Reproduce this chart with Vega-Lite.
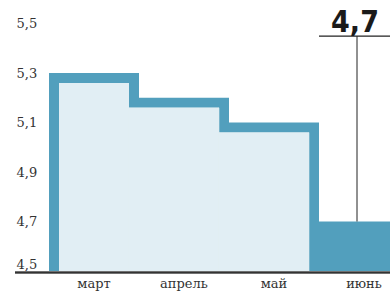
{
  "$schema": "https://vega.github.io/schema/vega-lite/v6.json",
  "width": 375,
  "height": 247.5,
  "autosize": {"type": "none"},
  "padding": {"left": 15, "top": 23.5, "right": 0, "bottom": 20},
  "background": "white",
  "config": {
    "view": {"stroke": null},
    "locale": {"number": {"decimal": ",", "thousands": " ", "grouping": [3], "currency": ["", " ₽"]}}
  },
  "data": {
    "values": [
      {"month": "март", "value": 5.3},
      {"month": "апрель", "value": 5.2},
      {"month": "май", "value": 5.1},
      {"month": "июнь", "value": 4.7}
    ]
  },
  "layer": [
    {
      "mark": {"type": "bar", "color": "#529fbd", "clip": true},
      "encoding": {
        "x": {
          "field": "month", "type": "nominal", "sort": null,
          "scale": {"domain": ["март", "апрель", "май", "июнь"], "range": [34, 394], "paddingInner": 0, "paddingOuter": 0},
          "axis": {"title": null, "domain": false, "ticks": false, "labelFont": "DejaVu Serif", "labelFontSize": 13, "labelColor": "#333", "labelPadding": 6, "labelAngle": 0}
        },
        "y": {
          "field": "value", "type": "quantitative",
          "scale": {"domain": [4.5, 5.5], "zero": false, "nice": false},
          "axis": {
            "values": [4.5, 4.7, 4.9, 5.1, 5.3, 5.5], "format": ".1f", "title": null,
            "domain": false, "ticks": false, "tickSize": 0, "grid": false,
            "labelAlign": "left", "labelPadding": -1, "labelFont": "DejaVu Serif", "labelFontSize": 13,
            "labelColor": "#333", "labelFlush": false,
            "labelBaseline": {"condition": {"test": "datum.value <= 4.5", "value": "bottom"}, "value": "middle"}
          }
        },
        "y2": {"datum": 4.5}
      }
    },
    {
      "transform": [{"filter": "datum.month == 'март'"}],
      "mark": {"type": "bar", "color": "#e1eef4", "width": 70, "yOffset": 10},
      "encoding": {
        "x": {"field": "month", "type": "nominal", "sort": null},
        "y": {"field": "value", "type": "quantitative"},
        "y2": {"datum": 4.5}
      }
    },
    {
      "transform": [{"filter": "datum.month == 'апрель' || datum.month == 'май'"}],
      "mark": {"type": "bar", "color": "#e1eef4", "xOffset": -10, "yOffset": 10, "stroke": "#e1eef4", "strokeWidth": 0.6},
      "encoding": {
        "x": {"field": "month", "type": "nominal", "sort": null},
        "y": {"field": "value", "type": "quantitative"},
        "y2": {"datum": 4.5}
      }
    },
    {
      "mark": {"type": "rule", "color": "#333", "strokeWidth": 1.5, "yOffset": 1.5},
      "encoding": {"y": {"datum": 4.5, "type": "quantitative"}}
    },
    {
      "transform": [{"filter": "datum.month == 'июнь'"}],
      "mark": {"type": "rect", "color": "#222", "clip": true},
      "encoding": {
        "x": {"field": "month", "type": "nominal", "sort": null},
        "y": {"datum": 5.452, "type": "quantitative"},
        "y2": {"datum": 5.446}
      }
    },
    {
      "transform": [{"filter": "datum.month == 'июнь'"}],
      "mark": {"type": "rule", "color": "#222", "strokeWidth": 1, "xOffset": -7},
      "encoding": {
        "x": {"field": "month", "type": "nominal", "sort": null},
        "y": {"field": "value", "type": "quantitative"},
        "y2": {"datum": 5.449}
      }
    },
    {
      "transform": [{"filter": "datum.month == 'июнь'"}],
      "mark": {"type": "text", "font": "Liberation Sans Narrow, DejaVu Sans Condensed, sans-serif", "fontWeight": "bold", "fontSize": 30, "baseline": "alphabetic", "align": "center", "xOffset": -9, "color": "#1a1a1a"},
      "encoding": {
        "x": {"field": "month", "type": "nominal", "sort": null},
        "y": {"datum": 5.466, "type": "quantitative"},
        "text": {"field": "value", "type": "quantitative", "format": ".1f"}
      }
    }
  ]
}
